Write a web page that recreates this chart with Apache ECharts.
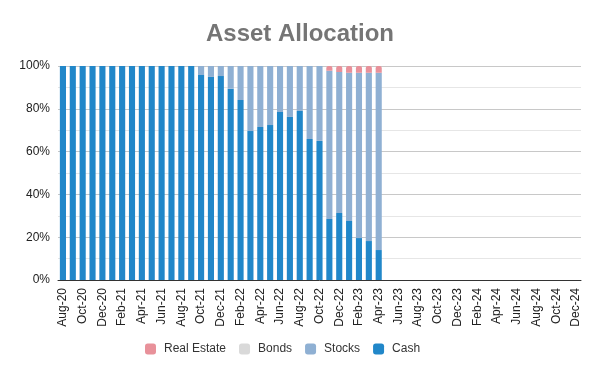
<!DOCTYPE html>
<html><head><meta charset="utf-8">
<script src="https://cdn.jsdelivr.net/npm/echarts@6/dist/echarts.min.js"></script>
<style>html,body{margin:0;padding:0;background:#fff}#c{width:600px;height:371px}</style>
</head><body><div id="c"></div>
<script>
const categories = ["Aug-20","Sep-20","Oct-20","Nov-20","Dec-20","Jan-21","Feb-21","Mar-21","Apr-21","May-21","Jun-21","Jul-21","Aug-21","Sep-21","Oct-21","Nov-21","Dec-21","Jan-22","Feb-22","Mar-22","Apr-22","May-22","Jun-22","Jul-22","Aug-22","Sep-22","Oct-22","Nov-22","Dec-22","Jan-23","Feb-23","Mar-23","Apr-23","May-23","Jun-23","Jul-23","Aug-23","Sep-23","Oct-23","Nov-23","Dec-23","Jan-24","Feb-24","Mar-24","Apr-24","May-24","Jun-24","Jul-24","Aug-24","Sep-24","Oct-24","Nov-24","Dec-24"];
const cash = [100,100,100,100,100,100,100,100,100,100,100,100,100,100,95.8,94.9,95.3,89.4,84.1,69.6,71.5,72.4,78.5,76.2,79.0,65.9,65.0,28.5,31.3,27.6,19.6,18.2,14.0];
const stocks = [0,0,0,0,0,0,0,0,0,0,0,0,0,0,4.2,5.1,4.7,10.6,15.9,30.4,28.5,27.6,21.5,23.8,21.0,34.1,35.0,69.3,65.9,69.3,77.3,78.7,82.9];
const bonds = [0,0,0,0,0,0,0,0,0,0,0,0,0,0,0,0,0,0,0,0,0,0,0,0,0,0,0,0,0,0,0,0,0];
const realEstate = [0,0,0,0,0,0,0,0,0,0,0,0,0,0,0,0,0,0,0,0,0,0,0,0,0,0,0,2.2,2.8,3.1,3.1,3.1,3.1];
const yTicks = [0,20,40,60,80,100];

const chart = echarts.init(document.getElementById('c'));
const font = 'Liberation Sans, Arial, sans-serif';
const bar = (name, data, color, extra) => Object.assign({
  name, type: 'bar', stack: 'total', data, barCategoryGap: '38%',
  itemStyle: { color }, emphasis: { disabled: true }
}, extra || {});
chart.setOption({
  animation: false,
  title: { text: 'Asset Allocation', left: 'center', top: 17,
    textStyle: { fontFamily: font, fontSize: 24, fontWeight: 'bold', color: '#757575' } },
  grid: { left: 58, right: 19, top: 66, bottom: 91 },
  legend: {
    top: 338, left: 140, itemWidth: 11, itemHeight: 11, itemGap: 13, icon: 'roundRect',
    data: ['Real Estate', 'Bonds', 'Stocks', 'Cash'],
    textStyle: { fontFamily: font, fontSize: 12, color: '#333', padding: [0, 0, 0, 3] }
  },
  xAxis: {
    type: 'category', data: categories,
    axisTick: { show: false },
    axisLine: { lineStyle: { color: '#333', width: 1 } },
    axisLabel: { rotate: 90, interval: 1, fontFamily: font, fontSize: 12, color: '#222', margin: 8 }
  },
  yAxis: {
    type: 'value', min: yTicks[0], max: yTicks[yTicks.length - 1], interval: 20,
    axisLabel: { formatter: '{value}%', fontFamily: font, fontSize: 12, color: '#222', margin: 8 },
    axisLine: { show: false }, axisTick: { show: false },
    splitLine: { lineStyle: { color: '#c8c8c8' } },
    minorTick: { show: false, splitNumber: 2 },
    minorSplitLine: { show: true, lineStyle: { color: '#e6e6e6' } }
  },
  series: [
    bar('Cash', cash, '#2187c9'),
    bar('Stocks', stocks, '#8fb0d3'),
    bar('Bonds', bonds, '#d9d9d9'),
    bar('Real Estate', realEstate, '#e8919a', { itemStyle: { color: '#e8919a', borderRadius: [2, 2, 0, 0] } })
  ]
});
</script></body></html>
